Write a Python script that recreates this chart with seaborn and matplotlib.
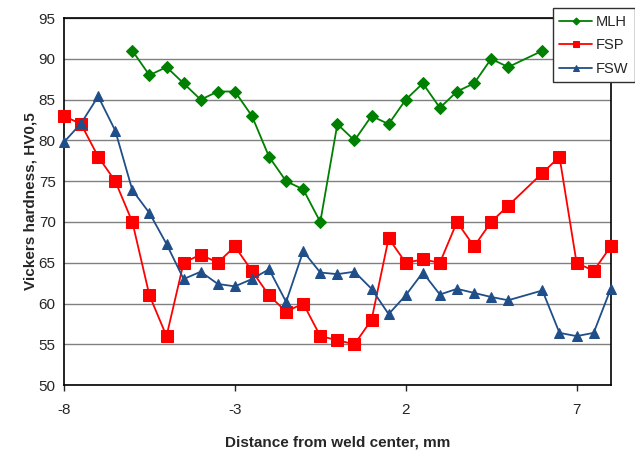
import pandas as pd
import matplotlib.pyplot as plt
import seaborn as sns

# hardness profiles across the weld
mlh_x = [-6, -5.5, -5, -4.5, -4, -3.5, -3, -2.5, -2, -1.5, -1, -0.5, 0, 0.5, 1, 1.5, 2, 2.5, 3, 3.5, 4, 4.5, 5, 6]
mlh_y = [91, 88, 89, 87, 85, 86, 86, 83, 78, 75, 74, 70, 82, 80, 83, 82, 85, 87, 84, 86, 87, 90, 89, 91]

fs_x = [-8, -7.5, -7, -6.5, -6, -5.5, -5, -4.5, -4, -3.5, -3, -2.5, -2, -1.5, -1, -0.5,
        0, 0.5, 1, 1.5, 2, 2.5, 3, 3.5, 4, 4.5, 5, 6, 6.5, 7, 7.5, 8]
fsp_y = [83, 82, 78, 75, 70, 61, 56, 65, 66, 65, 67, 64, 61, 59, 60, 56,
         55.5, 55, 58, 68, 65, 65.4, 65, 70, 67, 70, 72, 76, 78, 65, 64, 67]
fsw_y = [79.8, 82.1, 85.4, 81.2, 73.9, 71.1, 67.3, 63, 63.9, 62.4, 62.1, 63, 64.2, 60.2, 66.4, 63.8,
         63.6, 63.9, 61.8, 58.7, 61, 63.8, 61.1, 61.8, 61.3, 60.8, 60.4, 61.6, 56.4, 56, 56.4, 61.8]

df = pd.concat([
    pd.DataFrame({"x": mlh_x, "y": mlh_y, "series": "MLH"}),
    pd.DataFrame({"x": fs_x, "y": fsp_y, "series": "FSP"}),
    pd.DataFrame({"x": fs_x, "y": fsw_y, "series": "FSW"}),
])

sns.set_style("white")
plt.rcParams["font.family"] = ["Liberation Sans", "DejaVu Sans"]
plt.rcParams["axes.unicode_minus"] = False

colors = {"MLH": "#008000", "FSP": "#ff0000", "FSW": "#1f4e89"}
markers = {"MLH": "D", "FSP": "s", "FSW": "^"}
msizes = {"MLH": 6, "FSP": 8, "FSW": 7}

fig = plt.figure(figsize=(6.35, 4.53), dpi=100)
ax = fig.add_axes([0.1008, 0.150, 0.861, 0.810])

for name in ["MLH", "FSP", "FSW"]:
    sub = df[df["series"] == name]
    sns.lineplot(data=sub, x="x", y="y", ax=ax, color=colors[name], marker=markers[name],
                 markersize=msizes[name], markeredgecolor=colors[name], linewidth=1.3,
                 label=name, sort=False, clip_on=False, zorder=3)

ax.set_xlim(-8, 8)
ax.set_ylim(50, 95)
ax.set_xticks([-8, -3, 2, 7])
ax.set_yticks(range(50, 96, 5))
ax.yaxis.grid(True, color="#808080", linewidth=1)
ax.set_axisbelow(True)
for s in ax.spines.values():
    s.set_color("black")
    s.set_linewidth(1.2)
ax.tick_params(axis="x", direction="out", length=4, width=1, pad=9, labelsize=11)
ax.tick_params(axis="y", length=0, pad=6, labelsize=11)
ax.tick_params(bottom=True)
ax.set_xlabel("Distance from weld center, mm", fontsize=11, fontweight="bold", labelpad=13)
ax.set_ylabel("Vickers hardness, HV0,5", fontsize=11, fontweight="bold", labelpad=1)

leg = ax.legend(loc="upper right", bbox_to_anchor=(1.0, 0.982), bbox_transform=fig.transFigure,
                fontsize=10.5, frameon=True, fancybox=False, edgecolor="#303030", framealpha=1,
                handlelength=2.2, handletextpad=0.3, markerscale=0.6, borderpad=0.45,
                labelspacing=0.65, borderaxespad=0)
leg.get_frame().set_linewidth(1)
leg.set_zorder(5)

fig.savefig("out.png", dpi=100)
